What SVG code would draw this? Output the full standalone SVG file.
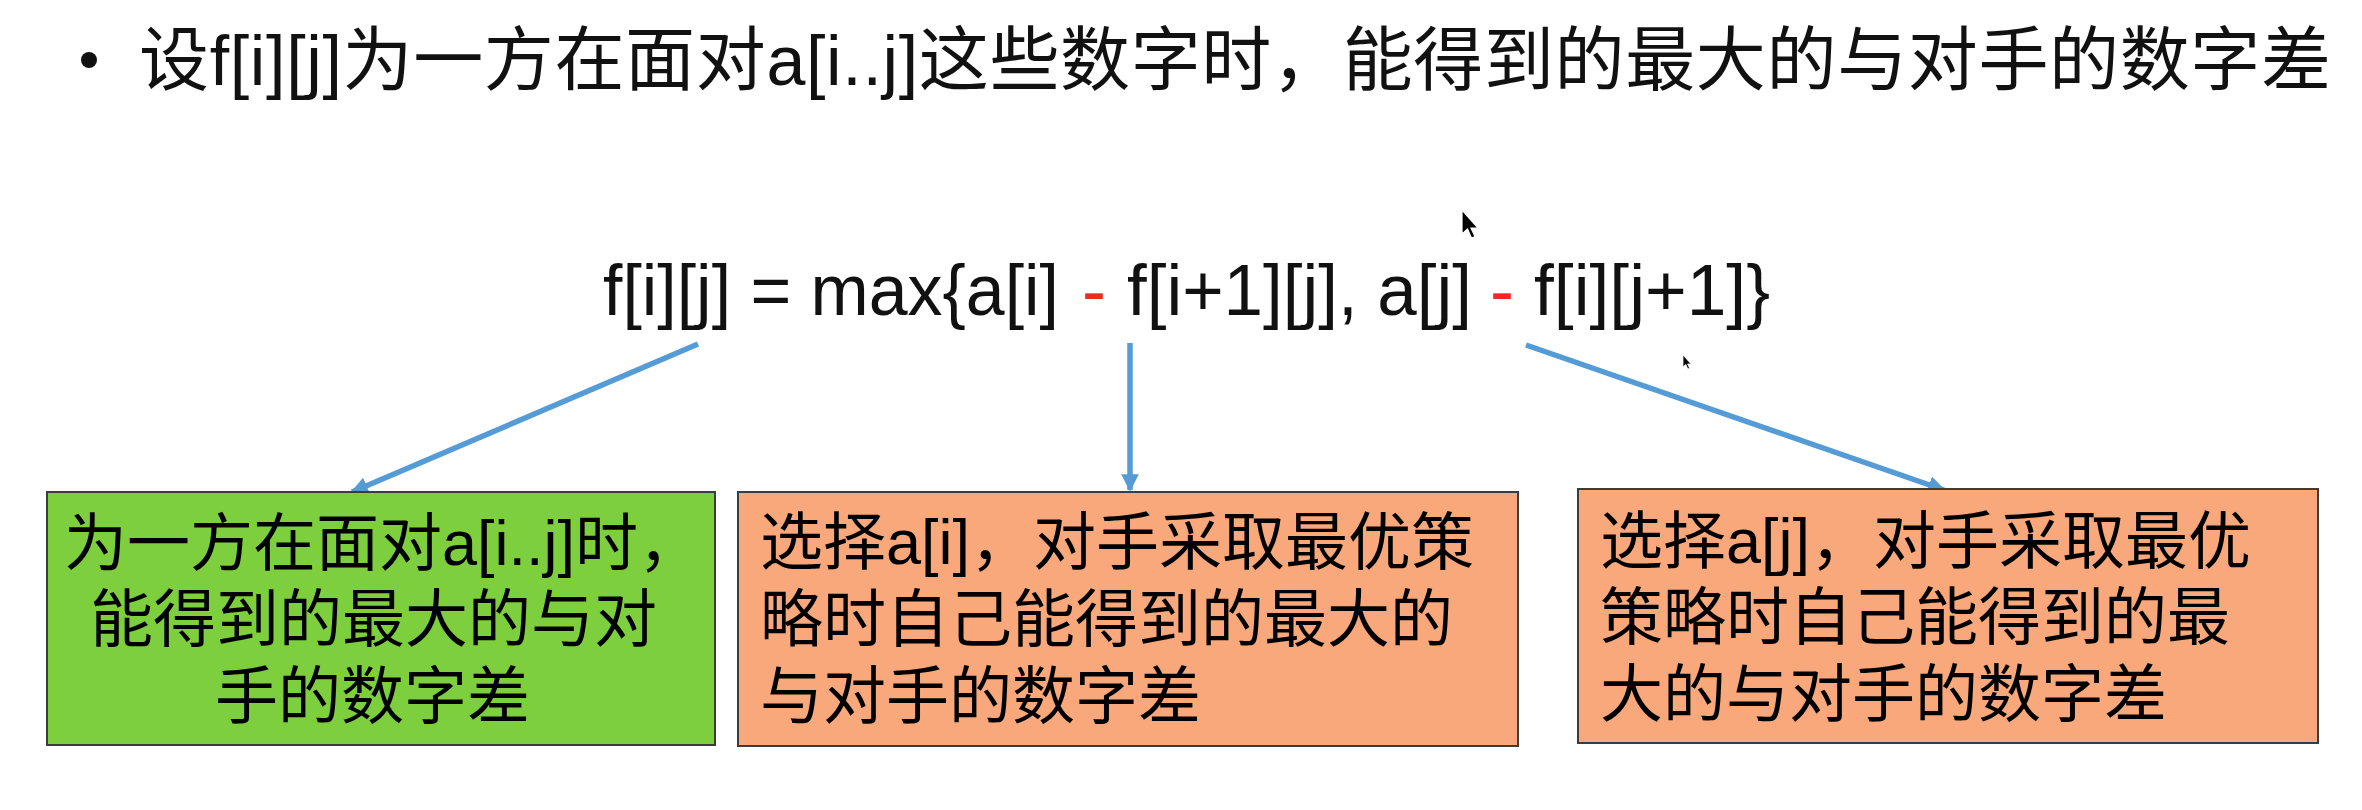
<svg xmlns="http://www.w3.org/2000/svg" width="2362" height="810" viewBox="0 0 2362 810">
<style>
.t{font-family:"Liberation Sans","Noto Sans CJK SC",sans-serif;fill:#111}
.title{font-size:70px}
.f{font-size:72px}
.red{fill:#ee2a22}
.bx{font-size:63px;fill:#000}
.conn{stroke:#559bd6;stroke-width:5.5;fill:none;marker-end:url(#ah)}
.node rect{stroke:#3c3c3c;stroke-width:2}
</style>
<defs>
<marker id="ah" viewBox="0 0 10 10" refX="9" refY="5" markerWidth="3.2" markerHeight="3.2" orient="auto" markerUnits="strokeWidth">
<path d="M0,0 L10,5 L0,10 z" fill="#559bd6"/>
</marker>
</defs>
<rect width="2362" height="810" fill="#fff"/>

<g id="title">
<circle cx="89" cy="60" r="8" fill="#111"/>
<text class="t title" x="139" y="85" textLength="2192" lengthAdjust="spacing">设f[i][j]为一方在面对a[i..j]这些数字时，能得到的最大的与对手的数字差</text>
</g>

<g id="formula">
<text class="t f" x="603" y="315" textLength="456" lengthAdjust="spacingAndGlyphs">f[i][j] = max{a[i]</text>
<text class="t f red" x="1082" y="315">-</text>
<text class="t f" x="1127" y="315" textLength="345" lengthAdjust="spacingAndGlyphs">f[i+1][j], a[j]</text>
<text class="t f red" x="1490" y="315">-</text>
<text class="t f" x="1534" y="315" textLength="236" lengthAdjust="spacingAndGlyphs">f[i][j+1]}</text>
</g>

<g id="connectors">
<line class="conn" x1="698" y1="344" x2="352" y2="492"/>
<line class="conn" x1="1130" y1="343" x2="1130" y2="490"/>
<line class="conn" x1="1526" y1="345" x2="1944" y2="490"/>
</g>

<g id="node-whole" class="node">
<rect x="47" y="492" width="668" height="253" fill="#7dcf3e"/>
<text class="t bx" x="64" y="565">为一方在面对a[i..j]时，</text>
<text class="t bx" x="90" y="641">能得到的最大的与对</text>
<text class="t bx" x="215" y="718">手的数字差</text>
</g>

<g id="node-left" class="node">
<rect x="738" y="492" width="780" height="254" fill="#f8a87a"/>
<text class="t bx" x="760" y="564">选择a[i]，对手采取最优策</text>
<text class="t bx" x="760" y="641">略时自己能得到的最大的</text>
<text class="t bx" x="760" y="718">与对手的数字差</text>
</g>

<g id="node-right" class="node">
<rect x="1578" y="489" width="740" height="254" fill="#f8a87a"/>
<text class="t bx" x="1600" y="563">选择a[j]，对手采取最优</text>
<text class="t bx" x="1600" y="639">策略时自己能得到的最</text>
<text class="t bx" x="1600" y="716">大的与对手的数字差</text>
</g>

<g id="cursors">
<path d="M1462,210 l0,24 l5.5,-5 l4,9 l3.5,-1.5 l-4,-8.5 l7,0 z" fill="#000" stroke="#fff" stroke-width="1.2"/>
<path d="M1683,355 l0,12 l2.8,-2.5 l2,4.5 l1.8,-0.8 l-2,-4.2 l3.5,0 z" fill="#000" stroke="#fff" stroke-width="0.8"/>
</g>
</svg>
